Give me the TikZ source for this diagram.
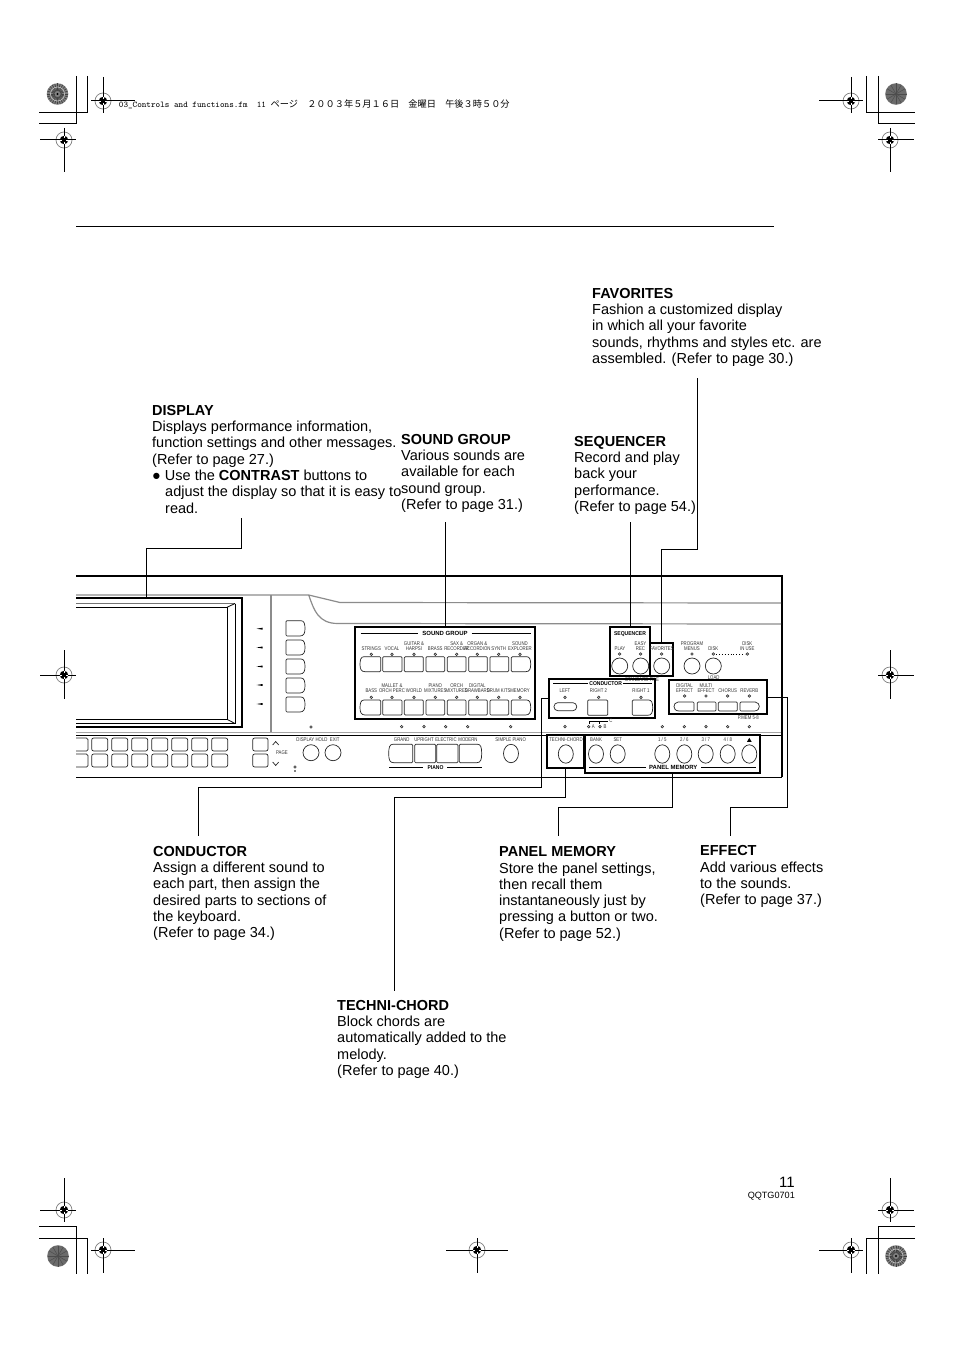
\documentclass[tikz,border=0pt]{standalone}
\usepackage{fontspec}
\setmainfont{Liberation Sans}
\newfontfamily\labfont[FakeStretch=0.8]{Liberation Sans}
\newfontfamily\labbold[FakeStretch=0.9]{Liberation Sans Bold}
\newfontfamily\labboldw{Liberation Sans Bold}
\newfontfamily\cjkf{Noto Sans CJK JP}
\newfontfamily\monof{Latin Modern Mono}
\newcounter{autolab}
\tikzset{
  descr/.style={anchor=north west,inner sep=0pt,align=left,font=\fontsize{14.5}{16.3}\selectfont},
  leader/.style={line width=1pt,black},
  panelbox/.style={draw=black,line width=2pt,inner sep=0pt},
  smalllab/.style={inner sep=0pt,align=center,font=\labfont\fontsize{5.4}{5.5}\selectfont,text=black!80},
  headlab/.style={inner sep=0pt,font=\labbold\fontsize{5.6}{6}\selectfont},
  headwide/.style={inner sep=0pt,font=\labboldw\fontsize{6}{6}\selectfont},
  btn/.style={line width=.7pt,draw=black!85},
  thin/.style={line width=.8pt,black},
  grayline/.style={line width=1.2pt,black!45},
  crop/.style={line width=1pt,black},
}
% label helper
\newcommand\lab[3]{\stepcounter{autolab}\node[smalllab,name=lab\theautolab] at (#1,#2) {#3};}
\newcommand\hlab[3]{\stepcounter{autolab}\node[headlab,name=lab\theautolab] at (#1,#2) {#3};}
\newcommand\hwide[3]{\stepcounter{autolab}\node[headwide,name=lab\theautolab] at (#1,#2) {#3};}
% indicator dot
\newcommand\ind[2]{\draw[line width=.6pt,black!85] (#1,#2) circle (1.3pt);}
% buttons: x1 x2 y1 y2
\newcommand\bbox[4]{\draw[btn,rounded corners=1pt] (#1,#3) rectangle (#2,#4);}
\newcommand\bR[4]{\pgfmathsetmacro\qa{#2-5}\pgfmathsetmacro\qb{(#3+#4)/2}\pgfmathsetmacro\qc{#1+1}
  \draw[btn,rounded corners=1pt] (#1,#3) -- (\qa,#3) [sharp corners] .. controls (#2-1,#3) and (#2,#3+3) .. (#2,\qb) .. controls (#2,#4-3) and (#2-1,#4) .. (\qa,#4) [rounded corners=1pt] -- (#1,#4) -- cycle;}
\newcommand\bL[4]{\pgfmathsetmacro\qa{#1+5}\pgfmathsetmacro\qb{(#3+#4)/2}
  \draw[btn,rounded corners=1pt] (#2,#3) -- (\qa,#3) [sharp corners] .. controls (#1+1,#3) and (#1,#3+3) .. (#1,\qb) .. controls (#1,#4-3) and (#1+1,#4) .. (\qa,#4) [rounded corners=1pt] -- (#2,#4) -- cycle;}
\newcommand\ovbtn[2]{\draw[btn] (#1,#2) ellipse [x radius=7.5pt,y radius=9.2pt];}
\newcommand\circb[2]{\draw[btn] (#1,#2) circle (8pt);}
% registration mark: cx cy x1 x2 y1 y2
\newcommand\regm[6]{%
  \draw[line width=.7pt,black!50] (#1,#2) circle (8pt);
  \draw[crop] (#3,#2) -- (#4,#2) (#1,#5) -- (#1,#6);
  \fill[black] (#1,#2) circle (4.2pt);
  \draw[white,line width=.55pt] (#1-4.3,#2) -- (#1+4.3,#2) (#1,#2-4.3) -- (#1,#2+4.3);
  \draw[black,line width=.5pt] (#1-1.6,#2) -- (#1+1.6,#2) (#1,#2-1.6) -- (#1,#2+1.6);}
% colour target: plain
\newcommand\targetp[2]{\fill[black!58] (#1,#2) circle (10.8pt);
  \foreach \a in {0,30,...,330}{\draw[black!70,line width=.5pt] (#1,#2) -- ++(\a:10.5pt);}}
% colour target: striped
\newcommand\targets[2]{\fill[black!50] (#1,#2) circle (10.8pt);
  \foreach \a in {0,15,...,345}{\draw[black!75,line width=.7pt] (#1,#2) ++(\a:3pt) -- ++(\a:7.5pt);}
  \draw[white!75!black,line width=.7pt] (#1,#2) circle (7pt);
  \draw[black!70,line width=.7pt] (#1,#2) circle (4pt);
  \fill[black] (#1,#2) circle (1.1pt);}
\begin{document}
\begin{tikzpicture}[x=1pt,y=-1pt]
\useasboundingbox (0,0) rectangle (954,1351);
\fill[white] (0,0) rectangle (954,1351);

% ---------- crop marks
\draw[crop] (87,76) -- (87,113) -- (39,113) (76,76) -- (76,124) -- (39,124);
\draw[crop] (866,76) -- (866,113) -- (915,113) (878,76) -- (878,124) -- (915,124);
\draw[crop] (39,1226) -- (76,1226) -- (76,1274) (39,1238) -- (87,1238) -- (87,1274);
\draw[crop] (915,1226) -- (878,1226) -- (878,1274) (915,1238) -- (866,1238) -- (866,1274);
\regm{103}{101}{91}{135}{77}{113}
\regm{64}{140}{40}{76}{128}{172}
\regm{851}{101}{819}{863}{77}{113}
\regm{890}{140}{878}{914}{128}{172}
\regm{64}{675}{40}{76}{650}{699}
\regm{890}{675}{878}{914}{650}{699}
\regm{64}{1210}{40}{76}{1178}{1222}
\regm{103}{1250}{91}{135}{1238}{1273}
\regm{890}{1210}{878}{914}{1178}{1222}
\regm{851}{1250}{819}{863}{1238}{1273}
\regm{477}{1250}{446}{508}{1238}{1273}
\targets{57.5}{94}
\targetp{896}{94}
\targetp{58}{1256}
\targets{896}{1256}

% ---------- file header
\node[anchor=base west,inner sep=0pt] (header) at (118.7,107.3) {\monof\fontsize{8.76}{9}\selectfont 03\_Controls and functions.fm\ \ 11\ {\cjkf\fontsize{9.2}{9}\selectfont ページ}\ \ {\cjkf\fontsize{9.2}{9}\selectfont ２００３年５月１６日}\ \ {\cjkf\fontsize{9.2}{9}\selectfont 金曜日}\ \ {\cjkf\fontsize{9.2}{9}\selectfont 午後３時５０分}};

% ---------- top rule
\coordinate (ruleL) at (76,226);
\coordinate (ruleR) at (774,226);
\draw[line width=1pt] (ruleL) -- (ruleR);

% ---------- instrument panel body
\draw[line width=2pt] (76,576) -- (781.5,576) -- (781.5,777);
\draw[line width=1pt] (76,777) -- (781.5,777);
\draw[grayline] (76,595) -- (308.7,595) -- (340,602.5) -- (781,603);
\draw[grayline] (308.7,595) .. controls (314,610) and (318,623.5) .. (338,623.5) -- (781,624);
\draw[grayline] (271,595) -- (271,732);
\draw[line width=.8pt,black!35] (76,732) -- (781,732);
\draw[thin] (76,735.3) -- (781,735.3);

% display frame
\draw[line width=2.2pt] (76,598.3) -- (242,598.3) -- (242,727.3) -- (76,727.3);
\draw[thin] (76,607.3) -- (227,607.3) -- (227,719.3) -- (76,719.3);
\draw[line width=.8pt,black!55] (76,603.5) -- (235,603.5);
\draw[thin] (235,603.5) -- (235,723.5) -- (76,723.5);
\draw[thin] (227,607.3) -- (235,603.5) (227,719.3) -- (235,723.5);

% soft-key arrows and buttons
\foreach \yy in {628.7,647.5,666.5,685,704}{
  \fill (256.7,\yy) -- (262.7,\yy-1) -- (262.7,\yy+1) -- cycle;}
\bR{286}{305}{620.7}{636}
\bR{286}{305}{640}{655}
\bR{286}{305}{659}{674}
\bR{286}{305}{678}{693}
\bR{286}{305}{697}{712}
\ind{311}{727}

% style button bank
\draw[btn,rounded corners=1.5pt] (76,738) -- (88,738) -- (88,751) -- (76,751);
\draw[btn,rounded corners=1.5pt] (76,754) -- (88,754) -- (88,767) -- (76,767);
\foreach \xx in {91.7,111.7,131.7,151.7,171.7,191.7,211.7}{
  \draw[btn,rounded corners=2pt] (\xx,738) rectangle (\xx+16,751);
  \draw[btn,rounded corners=2pt] (\xx,754) rectangle (\xx+16,767);}
\draw[btn,rounded corners=2pt] (252.7,738) rectangle (268,751);
\draw[btn,rounded corners=2pt] (252.7,754) rectangle (268,767);
\draw[btn] (272.7,745) -- (275.7,741.5) -- (278.7,745);
\draw[btn] (272.7,762) -- (275.7,765.5) -- (278.7,762);
\lab{282}{752.5}{PAGE}
\ind{295}{767}
\fill (295,771) circle (.8pt);
\lab{318}{740}{DISPLAY HOLD\ \ EXIT}
\circb{311}{752.7}
\circb{333}{752.7}

% ---------- SOUND GROUP
\foreach \xx/\yy in {371.3/654.3,392/654.3,414/654.3,435.3/654.3,456.7/654.3,477.3/654.3,498.7/654.3,520/654.3,
                     371.3/697.3,392/697.3,414/697.3,435.3/697.3,456.7/697.3,477.3/697.3,498.7/697.3,520/697.3}{\ind{\xx}{\yy}}
\node[panelbox,minimum width=179.4pt,minimum height=92pt] (soundbox) at (445,672.7) {};
\hwide{445}{633.3}{SOUND GROUP}
\draw[thin] (360.7,633.3) -- (418,633.3) (471.7,633.3) -- (530.7,633.3);
\lab{371.3}{648.7}{STRINGS}
\lab{392}{648.7}{VOCAL}
\lab{414}{646}{GUITAR \&\\HARPSI}
\lab{435.3}{648.7}{BRASS}
\lab{456.7}{646}{SAX \&\\RECORDER}
\lab{477.3}{646}{ORGAN \&\\ACCORDION}
\lab{498.7}{648.7}{SYNTH}
\lab{520}{646}{SOUND\\EXPLORER}
\lab{371.3}{690.7}{BASS}
\lab{392}{688}{MALLET \&\\ORCH PERC}
\lab{414}{690.7}{WORLD}
\lab{435.3}{688}{PIANO\\MIXTURES}
\lab{456.7}{688}{ORCH\\MIXTURES}
\lab{477.3}{688}{DIGITAL\\DRAWBARS}
\lab{498.7}{690.7}{DRUM KITS}
\lab{520}{690.7}{MEMORY}
\foreach \yy/\zz in {656.7/671.7,700/715}{
  \bL{360}{380.7}{\yy}{\zz}
  \bbox{382.7}{402}{\yy}{\zz}
  \bbox{404.3}{423.3}{\yy}{\zz}
  \bbox{426}{444.7}{\yy}{\zz}
  \bbox{447.3}{466}{\yy}{\zz}
  \bbox{468.7}{487.3}{\yy}{\zz}
  \bbox{490}{508.7}{\yy}{\zz}
  \bR{511.3}{530.7}{\yy}{\zz}
}
\foreach \xx in {401.7,424,445.7,467.7,510.7,565,588.7,600,662.3,684.3,706,727.7,749.3}{\ind{\xx}{726.7}}

% ---------- PIANO
\lab{401.7}{740}{GRAND}
\lab{424}{740}{UPRIGHT}
\lab{446}{740}{ELECTRIC}
\lab{468}{740}{MODERN}
\lab{510.7}{740}{SIMPLE PIANO}
\bL{388.7}{412.7}{744.3}{762.7}
\bbox{414.7}{435.7}{744.3}{762.7}
\bbox{436.7}{458}{744.3}{762.7}
\bR{459.3}{481.7}{744.3}{762.7}
\ovbtn{511}{753.5}
\hlab{435.5}{767.7}{PIANO}
\draw[thin] (389.3,767.7) -- (423.3,767.7) (447.3,767.7) -- (481.7,767.7);

% ---------- right hand panel: texts under frames
\lab{642}{679.3}{STANDARD FILE}
\lab{713.7}{677.5}{LOAD}

% ---------- SEQUENCER / FAVORITES
\node[panelbox,minimum width=40pt,minimum height=48.7pt] (seqbox) at (630,651.7) {};
\node[panelbox,minimum width=23.3pt,minimum height=32.7pt] (favbox) at (661.7,659.7) {};
\hlab{630}{634}{SEQUENCER}
\lab{620}{649}{PLAY}
\lab{640.5}{646}{EASY\\REC}
\lab{661.7}{649}{FAVORITES}
\ind{619.7}{654}
\ind{640.7}{654}
\ind{661.7}{654}
\circb{619.7}{666}
\circb{640.7}{666}
\circb{661.7}{666}

% ---------- PROGRAM MENUS / DISK
\lab{692}{646}{PROGRAM\\MENUS}
\lab{713.3}{649}{DISK}
\lab{747.3}{646}{DISK\\IN USE}
\ind{692}{654}
\ind{713.3}{654}
\ind{747.3}{654}
\circb{692}{666}
\circb{713.3}{666}
\draw[line width=.9pt,dotted] (716,654) -- (745,654);

% ---------- CONDUCTOR
\node[panelbox,minimum width=106.3pt,minimum height=39.3pt] (condbox) at (601.8,698.7) {};
\hlab{605.7}{683.3}{CONDUCTOR}
\draw[thin] (553.3,683.3) -- (588.3,683.3) (623.3,683.3) -- (651.7,683.3);
\lab{565}{690.3}{LEFT}
\lab{598.5}{690.3}{RIGHT 2}
\lab{641}{690.3}{RIGHT 1}
\ind{565}{697.3}
\ind{598.7}{697.3}
\ind{641}{697.3}
\draw[btn,rounded corners=3.8pt] (554,702.7) rectangle (576.7,710.7);
\bbox{587.7}{607.7}{700}{715.3}
\bR{632.3}{652.7}{700}{715.3}

% ---------- EFFECT
\node[panelbox,minimum width=98pt,minimum height=34.3pt] (effbox) at (717.7,697.2) {};
\lab{684.5}{688}{DIGITAL\\EFFECT}
\lab{706}{688}{MULTI\\EFFECT}
\lab{727.7}{690.5}{CHORUS}
\lab{749.3}{690.5}{REVERB}
\ind{684.7}{696}
\ind{706}{696}
\ind{727.7}{696}
\ind{749.3}{696}
\bL{674}{694}{702}{711}
\bbox{697.3}{716}{702}{711}
\bbox{718.3}{737.3}{702}{711}
\bR{740}{759.3}{702}{711}
\lab{748.3}{717.7}{P.MEM 5-8}

% ---------- A / B / C
\draw[line width=.7pt] (589,724) -- (589,721) -- (608.3,721) (599.3,721) -- (599.3,724);
\lab{611}{720.7}{C}
\lab{593.3}{726.7}{A}
\lab{605}{726.7}{B}

% ---------- TECHNI-CHORD
\node[panelbox,minimum width=37.3pt,minimum height=32.7pt] (techbox) at (565.4,751.4) {};
\lab{566}{740}{TECHNI-CHORD}
\ovbtn{565.8}{754}

% ---------- PANEL MEMORY
\node[panelbox,minimum width=174.7pt,minimum height=37.7pt] (membox) at (672.7,753.9) {};
\lab{596}{740}{BANK}
\lab{617.7}{740}{SET}
\lab{662.3}{740}{1 / 5}
\lab{684.3}{740}{2 / 6}
\lab{705.7}{740}{3 / 7}
\lab{727.7}{740}{4 / 8}
\fill (747,741.8) -- (749.3,737.8) -- (751.6,741.8) -- cycle;
\foreach \xx in {596,617.7,662.3,684.3,705.7,727.7,749.3}{\ovbtn{\xx}{754}}
\hwide{673.3}{767.3}{PANEL MEMORY}
\draw[thin] (589.3,767.3) -- (646,767.3) (701,767.3) -- (756,767.3);

% ---------- descriptions
\node[descr] (tFav) at (592,286.6) {\strut\textbf{FAVORITES}\\Fashion a customized display\\in which all your favorite\\sounds, rhythms and styles etc. are\\assembled. (Refer to page 30.)};
\node[descr] (tSeq) at (574,434.6) {\strut\textbf{SEQUENCER}\\Record and play\\back your\\performance.\\(Refer to page 54.)};
\node[descr] (tSound) at (401,432.6) {\strut\textbf{SOUND GROUP}\\Various sounds are\\available for each\\sound group.\\(Refer to page 31.)};
\node[descr] (tDisp) at (152,403.6) {\strut\textbf{DISPLAY}\\Displays performance information,\\function settings and other messages.\\(Refer to page 27.)\\● Use the \textbf{CONTRAST} buttons to\\\hspace*{13pt}adjust the display so that it is easy to\\\hspace*{13pt}read.};
\node[descr] (tCond) at (153,844.6) {\strut\textbf{CONDUCTOR}\\Assign a different sound to\\each part, then assign the\\desired parts to sections of\\the keyboard.\\(Refer to page 34.)};
\node[descr] (tMem) at (499,845.1) {\strut\textbf{PANEL MEMORY}\\Store the panel settings,\\then recall them\\instantaneously just by\\pressing a button or two.\\(Refer to page 52.)};
\node[descr] (tEff) at (700,844.1) {\strut\textbf{EFFECT}\\Add various effects\\to the sounds.\\(Refer to page 37.)};
\node[descr] (tTech) at (337,998.6) {\strut\textbf{TECHNI-CHORD}\\Block chords are\\automatically added to the\\melody.\\(Refer to page 40.)};

% ---------- page number
\node[anchor=base east,inner sep=0pt,font=\fontsize{15}{15}\selectfont] (pageno) at (795,1187) {11};
\node[anchor=base east,inner sep=0pt,font=\fontsize{9.1}{9}\selectfont] (code) at (795,1198.5) {QQTG0701};

% ---------- leaders
\coordinate (favEnd) at (697,378);
\coordinate (favA) at (697,549);
\coordinate (favB) at (661.7,549);
\draw[leader] (favEnd) -- (favA) -- (favB) -- (favbox.north);
\coordinate (seqEnd) at (630,522);
\draw[leader] (seqEnd) -- (seqbox.north);
\coordinate (soundEnd) at (445,522);
\draw[leader] (soundEnd) -- (soundbox.north);
\coordinate (dispEnd) at (241,518);
\coordinate (dispA) at (241,548);
\coordinate (dispB) at (146,548);
\coordinate (dispC) at (146,597.5);
\draw[leader] (dispEnd) -- (dispA) -- (dispB) -- (dispC);
\coordinate (condA) at (541.7,698.7);
\coordinate (condB) at (541.7,787.3);
\coordinate (condC) at (198,787.3);
\coordinate (condEnd) at (198,836);
\draw[leader] (condbox.west) -- (condA) -- (condB) -- (condC) -- (condEnd);
\coordinate (techA) at (565.4,797.7);
\coordinate (techB) at (394,797.7);
\coordinate (techEnd) at (394,991);
\draw[leader] (techbox.south) -- (techA) -- (techB) -- (techEnd);
\coordinate (memA) at (672.7,807.3);
\coordinate (memB) at (558,807.3);
\coordinate (memEnd) at (558,836);
\draw[leader] (membox.south) -- (memA) -- (memB) -- (memEnd);
\coordinate (effA) at (787.5,697.2);
\coordinate (effB) at (787.5,807.3);
\coordinate (effC) at (730,807.3);
\coordinate (effEnd) at (730,836);
\draw[leader] (effbox.east) -- (effA) -- (effB) -- (effC) -- (effEnd);
\end{tikzpicture}
\end{document}
